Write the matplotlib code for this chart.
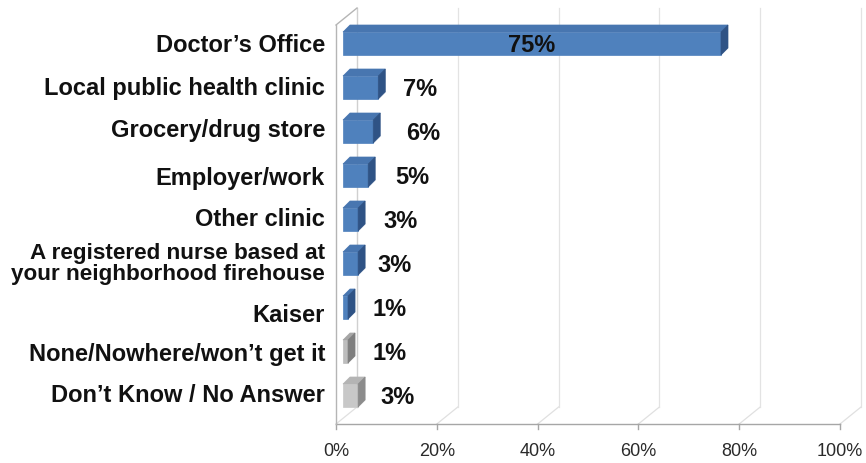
import matplotlib.pyplot as plt
from matplotlib.patches import Polygon

categories = [
    "Doctor’s Office",
    "Local public health clinic",
    "Grocery/drug store",
    "Employer/work",
    "Other clinic",
    "A registered nurse based at\nyour neighborhood firehouse",
    "Kaiser",
    "None/Nowhere/won’t get it",
    "Don’t Know / No Answer",
]
values = [75, 7, 6, 5, 3, 3, 1, 1, 3]
bar_kind = ["blue", "blue", "blue", "blue", "blue", "blue", "blue", "grey_dark", "grey"]
tick_values = [0, 20, 40, 60, 80, 100]
tick_labels = ["0%", "20%", "40%", "60%", "80%", "100%"]

# face colours: (front, top, side)
palette = {
    "blue": ("#4f81bd", "#4876b0", "#2f5385"),
    "grey_dark": ("#bdbdbd", "#a6a6a6", "#7f7f7f"),
    "grey": ("#c8c8c8", "#b4b4b4", "#8c8c8c"),
}

# small pixel nudges for the category names and value labels
cat_nudge_y = [0, 0, -3, 1, -2, -1, 7, 2, -1]
val_nudge_x = [0, 0, 8, 2, 0, -6, 0, 0, -3]

W, H = 866, 463
PX_X = 5.04          # pixels per percent
PX_Y = 44.0          # pixels per category row
X0 = 336             # 0% on the front floor edge
Y0 = 43.5            # centre of first row


def px_x(p):
    return p / PX_X


def px_y(p):
    return p / PX_Y


fig = plt.figure(figsize=(W / 100, H / 100), dpi=100)
ax = fig.add_axes([0, 0, 1, 1])
ax.set_xlim(-X0 / PX_X, (W - X0) / PX_X)
ax.set_ylim((H - Y0) / PX_Y, -Y0 / PX_Y)
ax.axis("off")

font = "Liberation Sans"

# walls, floor and gridlines
floor_y = px_y(424 - Y0)
depth_x, depth_y = px_x(21), px_y(-17)
top_back = px_y(8 - Y0)
top_front = px_y(25 - Y0)

for t in tick_values:
    ax.plot([t, t + depth_x], [floor_y, floor_y + depth_y], color="#e0e0e0", lw=0.9, zorder=1)
    ax.plot([t + depth_x, t + depth_x], [floor_y + depth_y, top_back], color="#e3e3e3", lw=0.9, zorder=1)
    ax.plot([t, t], [floor_y, floor_y + px_y(5)], color="#a6a6a6", lw=1.0, zorder=2)

ax.plot([0, 100], [floor_y, floor_y], color="#a6a6a6", lw=1.0, zorder=2)
ax.plot([0, 0], [floor_y, top_front], color="#b5b5b5", lw=1.0, zorder=2)
ax.plot([0, depth_x], [top_front, top_back], color="#b5b5b5", lw=1.0, zorder=2)
ax.plot([depth_x, depth_x], [floor_y + depth_y, top_back], color="#d0d0d0", lw=0.9, zorder=1)

for t, lab in zip(tick_values, tick_labels):
    ax.text(t, px_y(451 - Y0), lab, ha="center", va="center",
            fontsize=13, color="#2a2a2a", family=font)

# bars as boxes: front face, top face, right face
shift = px_x(7)
half = px_y(11.5)
bdx, bdy = px_x(7), px_y(-7)

for i, (cat, v, kind) in enumerate(zip(categories, values, bar_kind)):
    front, top, side = palette[kind]
    x1, x2 = shift, shift + v
    y_top, y_bot = i - half, i + half
    ax.add_patch(Polygon([(x1, y_top), (x2, y_top), (x2, y_bot), (x1, y_bot)],
                         closed=True, fc=front, ec=front, lw=0.5, zorder=3))
    ax.add_patch(Polygon([(x1, y_top), (x1 + bdx, y_top + bdy), (x2 + bdx, y_top + bdy), (x2, y_top)],
                         closed=True, fc=top, ec=top, lw=0.5, zorder=3))
    ax.add_patch(Polygon([(x2, y_top), (x2 + bdx, y_top + bdy), (x2 + bdx, y_bot + bdy), (x2, y_bot)],
                         closed=True, fc=side, ec=side, lw=0.5, zorder=3))

    if v > 50:
        lx = shift + v / 2
    else:
        lx = shift + v + px_x(42 + val_nudge_x[i])
    ax.text(lx, i + px_y(2), f"{v}%", ha="center", va="center",
            fontsize=17, fontweight="bold", color="#111111", family=font, zorder=4)

    size = 16.2 if "\n" in cat else 17
    ax.text(px_x(-11), i + px_y(1.5 + cat_nudge_y[i]), cat, ha="right", va="center",
            fontsize=size, fontweight="bold", color="#111111", family=font,
            linespacing=1.05)

fig.savefig("out.png", dpi=100)
